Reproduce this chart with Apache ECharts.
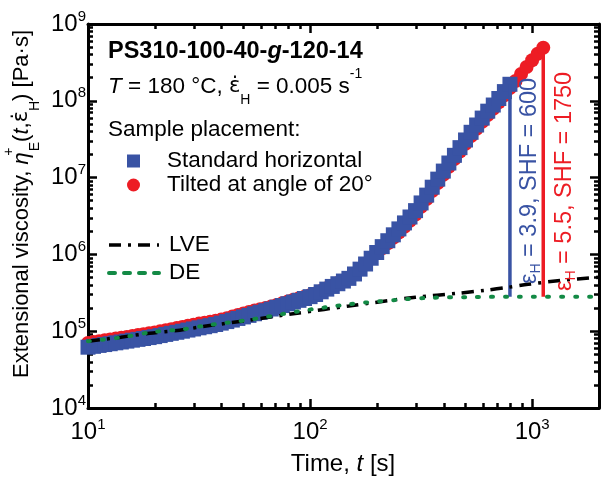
<!DOCTYPE html>
<html><head><meta charset="utf-8">
<script src="https://cdn.jsdelivr.net/npm/echarts@6/dist/echarts.min.js"></script>
<style>html,body{margin:0;padding:0;background:#fff}#c{width:603px;height:479px}</style>
</head><body><div id="c"></div>
<script>
const FONT = '"Liberation Sans", Arial, Helvetica, sans-serif';
const BLUE = '#3953a4', RED = '#ed1c24', GREEN = '#138a45';

// Sampling times [s]
const time = [
 10.00, 10.59, 11.22, 11.89, 12.59, 13.34, 14.13, 14.96, 15.85, 16.79,
 17.78, 18.84, 19.95, 21.13, 22.39, 23.71, 25.12, 26.61, 28.18, 29.85,
 31.62, 33.50, 35.48, 37.58, 39.81, 42.17, 44.67, 47.32, 50.12, 53.09,
 56.23, 59.57, 63.10, 66.83, 70.79, 74.99, 79.43, 84.14, 89.13, 94.41,
 100.0, 105.9, 112.2, 118.9, 125.9, 133.4, 141.3, 149.6, 158.5, 167.9,
 177.8, 188.4, 199.5, 211.3, 223.9, 237.1, 251.2, 266.1, 281.8, 298.5,
 316.2, 335.0, 354.8, 375.8, 398.1, 421.7, 446.7, 473.2, 501.2, 530.9,
 562.3, 595.7, 631.0, 668.3, 707.9, 749.9, 794.3, 841.4, 891.3, 944.1,
 1000, 1059, 1122
];
// Standard horizontal placement [Pa s]
const etaStandard = [
 61900, 63500, 65300, 67000, 68700, 70600, 72400, 74300, 76400, 78300,
 80400, 82600, 84900, 87700, 90800, 93800, 96800, 100000, 103500, 106900,
 110700, 114300, 118000, 122200, 127400, 133400, 139600, 146600, 153500, 160700,
 168700, 176600, 184900, 194500, 205100, 215800, 227500, 239900, 252300, 266700,
 281800, 300600, 325800, 353200, 382800, 415000, 449800, 487500, 555900, 642700,
 749900, 891300, 1.059e6, 1.262e6, 1.507e6, 1.799e6, 2.148e6, 2.570e6, 3.069e6, 3.715e6,
 4.677e6, 5.916e6, 7.499e6, 9.550e6, 1.216e7, 1.549e7, 1.950e7, 2.455e7, 3.090e7, 3.890e7,
 4.842e7, 5.957e7, 7.328e7, 8.810e7, 1.072e8, 1.318e8, 1.641e8
];
// Tilted at angle of 20 deg [Pa s]
const etaTilted = [
 70300, 72100, 74100, 76000, 78000, 80200, 82200, 84300, 86700, 88900,
 91200, 93800, 96400, 99500, 103000, 106400, 109900, 113500, 117500, 121300,
 125600, 128800, 132400, 136500, 141600, 147900, 154900, 162600, 170200, 178200,
 185800, 193200, 200900, 209900, 219800, 231200, 243800, 257000, 269200, 281800,
 294400, 310500, 333400, 361400, 391700, 422700, 455000, 487500, 555900, 642700,
 749900, 891300, 1.040e6, 1.205e6, 1.400e6, 1.641e6, 1.932e6, 2.291e6, 2.735e6, 3.311e6,
 4.169e6, 5.272e6, 6.683e6, 8.511e6, 1.084e7, 1.380e7, 1.738e7, 2.188e7, 2.754e7, 3.467e7,
 4.315e7, 5.309e7, 6.531e7, 7.852e7, 9.550e7, 1.175e8, 1.462e8, 1.811e8, 2.239e8, 2.754e8,
 3.373e8, 4.093e8, 4.898e8
];
// LVE envelope
const timeLVE = [10, 14.06, 18.97, 25.9, 33.5, 53.2, 89.3, 149.6, 298.5, 465.6, 615, 780, 959, 1349, 2000];
const etaLVE  = [74100, 83600, 94200, 103000, 116000, 139000, 173000, 213000, 277000, 312000, 341000, 373000, 408000, 459000, 505000];
// DE prediction
const timeDE = [10, 14.4, 19.2, 26.7, 33.5, 53.2, 89.3, 149.6, 250.6, 342, 516, 865, 2000];
const etaDE  = [74100, 83600, 97000, 106000, 118000, 141000, 182000, 224000, 257000, 272000, 278000, 281000, 281000];
// Hencky strain markers (vertical lines)
const shfStandardTime = [794.3, 794.3];
const shfStandardEta  = [1.641e8, 2.81e5];
const shfTiltedTime   = [1122, 1122];
const shfTiltedEta    = [4.898e8, 2.81e5];
// Axis ticks
const xMajorTicks = [10, 100, 1000];
const xMinorTicks = [20, 30, 40, 50, 60, 70, 80, 90, 200, 300, 400, 500, 600, 700, 800, 900];
const yMajorTicks = [1e4, 1e5, 1e6, 1e7, 1e8, 1e9];
const yMinorTicks = [
 2e4, 3e4, 4e4, 5e4, 6e4, 7e4, 8e4, 9e4,
 2e5, 3e5, 4e5, 5e5, 6e5, 7e5, 8e5, 9e5,
 2e6, 3e6, 4e6, 5e6, 6e6, 7e6, 8e6, 9e6,
 2e7, 3e7, 4e7, 5e7, 6e7, 7e7, 8e7, 9e7,
 2e8, 3e8, 4e8, 5e8, 6e8, 7e8, 8e8, 9e8
];
const legendMarkers = ['Standard horizontal', 'Tilted at angle of 20°'];
const legendLines = ['LVE', 'DE'];

const zip = (a, b) => a.map((v, i) => [v, b[i]]);
const powLabel = v => '{b|10}{s|' + Math.round(Math.log10(v)) + '}';
const tickRich = {
  b: {fontSize: 24, fontFamily: FONT, color: '#000', lineHeight: 30},
  s: {fontSize: 15, fontFamily: FONT, color: '#000', lineHeight: 16, verticalAlign: 'top'}
};

function makeAxis(isX, pos, ticks, len, withLabels, withLine) {
  return {
    type: 'log', logBase: 10, position: pos, gridIndex: 0,
    min: isX ? 10 : 1e4, max: isX ? 2000 : 1e9,
    axisLine: {show: withLine, lineStyle: {color: '#000', width: 3}},
    axisTick: {show: true, inside: true, length: len, customValues: ticks,
               lineStyle: {color: '#000', width: 2.5}},
    axisLabel: withLabels ? {show: true, customValues: ticks, margin: isX ? 9 : 2,
               formatter: powLabel, rich: tickRich} : {show: false},
    splitLine: {show: false}, minorTick: {show: false}, minorSplitLine: {show: false}
  };
}

const chart = echarts.init(document.getElementById('c'), null, {renderer: 'canvas'});
const txt = (extra) => Object.assign({fontSize: 22.5, fontFamily: FONT, fill: '#000'}, extra);
const EPSDOT = {fontSize: 21, fontFamily: '"DejaVu Sans", sans-serif', lineHeight: 40};

chart.setOption({
  animation: false,
  backgroundColor: '#fff',
  grid: {left: 88, right: 4, top: 24, bottom: 71},
  xAxis: [
    makeAxis(true, 'bottom', xMajorTicks, 9, true, true),
    makeAxis(true, 'top', xMajorTicks, 9, false, true),
    makeAxis(true, 'bottom', xMinorTicks, 5, false, false),
    makeAxis(true, 'top', xMinorTicks, 5, false, false)
  ],
  yAxis: [
    makeAxis(false, 'left', yMajorTicks, 9, true, true),
    makeAxis(false, 'right', yMajorTicks, 9, false, true),
    makeAxis(false, 'left', yMinorTicks, 5, false, false),
    makeAxis(false, 'right', yMinorTicks, 5, false, false)
  ],
  legend: [
    {data: legendMarkers, orient: 'vertical', left: 127, top: 149, padding: 0,
     itemWidth: 13, itemHeight: 13, itemGap: 0, selectedMode: false,
     itemStyle: {opacity: 1},
     formatter: n => '{g| }' + n,
     textStyle: {fontSize: 22.5, fontFamily: FONT, color: '#000', lineHeight: 24,
                 rich: {g: {width: 22, lineHeight: 24}}}},
    {data: [
       {name: legendLines[0], lineStyle: {width: 3.5, color: '#000', type: [12, 7, 3, 7]}},
       {name: legendLines[1], lineStyle: {width: 4, color: GREEN, type: [6, 9]}}
     ],
     orient: 'vertical', left: 107, top: 233, padding: 0,
     itemWidth: 50, itemHeight: 14, itemGap: 4, selectedMode: false,
     lineStyle: {width: 3.5}, itemStyle: {opacity: 0},
     formatter: n => '{g| }' + n,
     textStyle: {fontSize: 22.5, fontFamily: FONT, color: '#000', lineHeight: 24,
                 rich: {g: {width: 5, lineHeight: 24}}}}
  ],
  series: [
    {type: 'scatter', name: legendMarkers[1], data: zip(time, etaTilted),
     symbol: 'circle', symbolSize: 14, itemStyle: {color: RED, opacity: 1}, z: 2,
     emphasis: {disabled: true}},
    {type: 'scatter', name: legendMarkers[0], data: zip(time.slice(0, etaStandard.length), etaStandard),
     symbol: 'rect', symbolSize: 15, itemStyle: {color: BLUE, opacity: 1}, z: 3,
     emphasis: {disabled: true}},
    {type: 'line', name: 'SHF standard', data: zip(shfStandardTime, shfStandardEta),
     symbol: 'none', lineStyle: {color: BLUE, width: 3.5}, z: 4},
    {type: 'line', name: 'SHF tilted', data: zip(shfTiltedTime, shfTiltedEta),
     symbol: 'none', lineStyle: {color: RED, width: 3.5}, z: 4},
    {type: 'line', name: 'LVE', data: zip(timeLVE, etaLVE), symbol: 'none', smooth: 0.3,
     itemStyle: {color: '#000'},
     lineStyle: {color: '#000', width: 3.5, type: [12, 7, 3, 7]}, z: 5},
    {type: 'line', name: 'DE', data: zip(timeDE, etaDE), symbol: 'none', smooth: 0.3,
     itemStyle: {color: GREEN},
     lineStyle: {color: GREEN, width: 4, type: [2, 12], cap: 'round'}, z: 5}
  ],
  graphic: [
    {type: 'text', x: 108, y: 52, z: 10, style: txt({
      text: '{b|PS310-100-40-}{bi|g}{b|-120-14}', align: 'left', verticalAlign: 'middle',
      textAlign: 'left', textVerticalAlign: 'middle',
      rich: {b: {fontSize: 23.5, fontWeight: 'bold', fontFamily: FONT},
             bi: {fontSize: 23.5, fontWeight: 'bold', fontStyle: 'italic', fontFamily: FONT}}})},
    {type: 'text', x: 108, y: 87, z: 10, style: txt({
      text: '{i|T} = 180 °C, {e|ε\u0307}{sub|H} = 0.005 s{sup|-1}', align: 'left', verticalAlign: 'middle',
      textAlign: 'left', textVerticalAlign: 'middle', lineHeight: 40,
      rich: {i: {fontSize: 22.5, fontStyle: 'italic', fontFamily: FONT, lineHeight: 40},
             e: EPSDOT,
             sub: {fontSize: 14, fontFamily: FONT, lineHeight: 15, verticalAlign: 'bottom'},
             sup: {fontSize: 14, fontFamily: FONT, lineHeight: 34, verticalAlign: 'top'}}})},
    {type: 'text', x: 108, y: 130, z: 10, style: txt({
      text: 'Sample placement:', align: 'left', verticalAlign: 'middle',
      textAlign: 'left', textVerticalAlign: 'middle'})},
    {type: 'text', x: 22, y: 204, rotation: Math.PI / 2, z: 10, style: txt({
      text: 'Extensional viscosity, {i|η}{p|+}{sub|E}({i|t},{e|ε\u0307}{sub|H}) [Pa·s]',
      fontSize: 22, align: 'center', verticalAlign: 'middle', textAlign: 'center', textVerticalAlign: 'middle', lineHeight: 40,
      rich: {i: {fontSize: 22, fontStyle: 'italic', fontFamily: FONT, lineHeight: 40},
             e: EPSDOT,
             p: {fontSize: 14, fontFamily: FONT, lineHeight: 18, verticalAlign: 'top', width: 1},
             sub: {fontSize: 14, fontFamily: FONT, lineHeight: 15, verticalAlign: 'bottom'}}})},
    {type: 'text', x: 343, y: 464, z: 10, style: txt({
      text: 'Time, {i|t} [s]', fontSize: 24, align: 'center', verticalAlign: 'middle',
      textAlign: 'center', textVerticalAlign: 'middle',
      rich: {i: {fontSize: 24, fontStyle: 'italic', fontFamily: FONT}}})},
    {type: 'text', x: 530, y: 284, rotation: Math.PI / 2, z: 10, style: txt({
      text: 'ε{sub|H} = 3.9, SHF = 600', fontSize: 23.5, fill: BLUE, align: 'left', verticalAlign: 'middle',
      textAlign: 'left', textVerticalAlign: 'middle', lineHeight: 26,
      rich: {sub: {fontSize: 14, fontFamily: FONT, fill: BLUE, color: BLUE, lineHeight: 15, verticalAlign: 'bottom'}}})},
    {type: 'text', x: 565, y: 291, rotation: Math.PI / 2, z: 10, style: txt({
      text: 'ε{sub|H} = 5.5, SHF = 1750', fontSize: 23.5, fill: RED, align: 'left', verticalAlign: 'middle',
      textAlign: 'left', textVerticalAlign: 'middle', lineHeight: 26,
      rich: {sub: {fontSize: 14, fontFamily: FONT, fill: RED, color: RED, lineHeight: 15, verticalAlign: 'bottom'}}})}
  ]
});
</script></body></html>
